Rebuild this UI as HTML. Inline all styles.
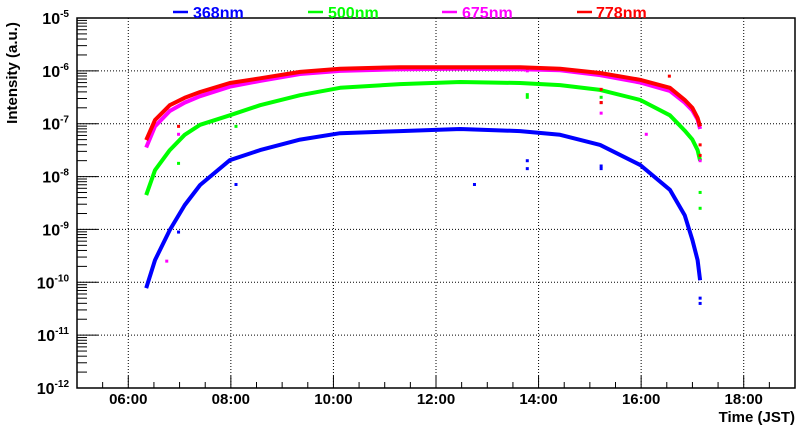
<!DOCTYPE html>
<html><head><meta charset="utf-8"><style>
html,body{margin:0;padding:0;background:#fff;}
svg{display:block;font-family:"Liberation Sans",sans-serif;font-weight:bold;}
</style></head><body>
<svg id="chart" width="800" height="427" viewBox="0 0 800 427"></svg>
<script>
// ---- data (hours JST, log10 intensity) ----
const times = [6.35,6.52,6.81,7.1,7.4,7.98,8.57,9.35,10.13,11.3,12.47,13.64,14.42,15.2,15.98,16.56,16.85,17.0,17.1,17.15];
const blue368 = [-10.11,-9.58,-9.01,-8.54,-8.16,-7.69,-7.5,-7.3,-7.18,-7.14,-7.1,-7.14,-7.21,-7.4,-7.78,-8.25,-8.73,-9.2,-9.58,-9.96];
const green500 = [-8.35,-7.88,-7.5,-7.21,-7.02,-6.84,-6.65,-6.46,-6.32,-6.25,-6.21,-6.23,-6.27,-6.36,-6.55,-6.84,-7.13,-7.3,-7.5,-7.7];
const magenta675 = [-7.45,-7.05,-6.76,-6.6,-6.48,-6.3,-6.19,-6.06,-6.0,-5.97,-5.96,-5.97,-5.99,-6.08,-6.22,-6.38,-6.6,-6.75,-6.92,-7.1];
const red778 = [-7.31,-6.93,-6.65,-6.51,-6.4,-6.23,-6.14,-6.02,-5.96,-5.93,-5.93,-5.93,-5.96,-6.04,-6.17,-6.32,-6.55,-6.7,-6.89,-7.05];
const outlierTimes = [6.98,8.1,12.75,13.78,13.78,15.22,15.22,17.15,17.15,6.75,16.1,16.55];
const outlierBlue = [-9.05,-8.15,-8.15,-7.7,-7.85,-7.8,-7.85,-10.3,-10.4,null,null,null];
const outlierGreen = [-7.75,-7.05,null,-6.45,-6.5,-6.5,-6.6,-8.3,-8.6,null,null,null];
const outlierMagenta = [-7.2,null,null,-6.0,null,-6.6,-6.8,-7.7,null,-9.6,-7.2,null];
const outlierRed = [-7.05,null,null,-5.95,null,-6.35,-6.6,-7.4,-7.6,null,null,-6.1];
const xTicks = [6,8,10,12,14,16,18];
const xTickLabels = ["06:00","08:00","10:00","12:00","14:00","16:00","18:00"];
const yDecades = [-5,-6,-7,-8,-9,-10,-11,-12];

const L=77,R=795,T=18,B=388,X0=5,X1=19,Y0=-12,Y1=-5;
const sx=h=>L+(h-X0)/(X1-X0)*(R-L);
const sy=v=>B-(v-Y0)/(Y1-Y0)*(B-T);
const svg=document.getElementById('chart');
const NS='http://www.w3.org/2000/svg';
function mk(tag,attrs,parent){const e=document.createElementNS(NS,tag);for(const k in attrs)e.setAttribute(k,attrs[k]);(parent||svg).appendChild(e);return e;}

// grid
const grid=mk('g',{});


xTicks.forEach(h=>mk('line',{x1:sx(h),x2:sx(h),y1:T,y2:B,stroke:'#000','stroke-width':1,'stroke-dasharray':'1,2'},grid));
yDecades.slice(1,-1).forEach(d=>mk('line',{x1:L,x2:R,y1:sy(d),y2:sy(d),stroke:'#000','stroke-width':1,'stroke-dasharray':'1,2'},grid));

// series
const series=[[blue368,'#0000ff','series-368nm',outlierBlue],[green500,'#00ff00','series-500nm',outlierGreen],[magenta675,'#ff00ff','series-675nm',outlierMagenta],[red778,'#ff0000','series-778nm',outlierRed]];
series.forEach(([vals,col,name,outl])=>{
  const g=mk('g',{});
  
  
  const pts=times.map((t,i)=>sx(t).toFixed(1)+','+sy(vals[i]).toFixed(1)).join(' ');
  mk('polyline',{points:pts,fill:'none',stroke:col,'stroke-width':4,'stroke-linejoin':'round'},g);
  outlierTimes.forEach((t,i)=>{if(outl[i]!==null){mk('rect',{x:sx(t)-1.5,y:sy(outl[i])-1.5,width:3,height:3,fill:col},g);}});
});

// frame & ticks
const ax=mk('g',{});


mk('rect',{x:L,y:T,width:R-L,height:B-T,fill:'none',stroke:'#000','stroke-width':1.5},ax);
for(let h=X0;h<=X1;h+=0.5){const major=Number.isInteger(h)&&h%2===0;mk('line',{x1:sx(h),x2:sx(h),y1:B,y2:B-(major?12:6),stroke:'#000','stroke-width':1},ax);}
for(let d=Y0;d<Y1;d++){mk('line',{x1:L,x2:L+21,y1:sy(d),y2:sy(d),stroke:'#000'},ax);for(let m=2;m<=9;m++){const y=sy(d+Math.log10(m));mk('line',{x1:L,x2:L+10,y1:y,y2:y,stroke:'#000'},ax);}}
xTicks.forEach((h,i)=>{const t=mk('text',{x:sx(h),y:404,'text-anchor':'middle','font-size':15},ax);t.textContent=xTickLabels[i];

});
yDecades.forEach(d=>{const t=mk('text',{x:L-8,y:sy(d)+6,'text-anchor':'end','font-size':16},ax);


t.textContent='10';const s=mk('tspan',{dy:-7,'font-size':10},t);s.textContent=String(d);});
</script>
<svg style="position:absolute;left:0;top:0" width="800" height="427">
<g font-family="Liberation Sans, sans-serif" font-weight="bold">
<text x="795" y="422" text-anchor="end" font-size="15">Time (JST)</text>
<text transform="translate(17,73) rotate(-90)" text-anchor="middle" font-size="15">Intensity (a.u.)</text>
<g>
<line x1="173" x2="188" y1="12" y2="12" stroke="#0000ff" stroke-width="2.5"/>
<text x="193" y="18" font-size="16" fill="#0000ff">368nm</text>
<line x1="308" x2="323" y1="12" y2="12" stroke="#00ff00" stroke-width="2.5"/>
<text x="328" y="18" font-size="16" fill="#00ff00">500nm</text>
<line x1="442" x2="457" y1="12" y2="12" stroke="#ff00ff" stroke-width="2.5"/>
<text x="462" y="18" font-size="16" fill="#ff00ff">675nm</text>
<line x1="577" x2="592" y1="12" y2="12" stroke="#ff0000" stroke-width="2.5"/>
<text x="596" y="18" font-size="16" fill="#ff0000">778nm</text>
</g></g></svg>
</body></html>
